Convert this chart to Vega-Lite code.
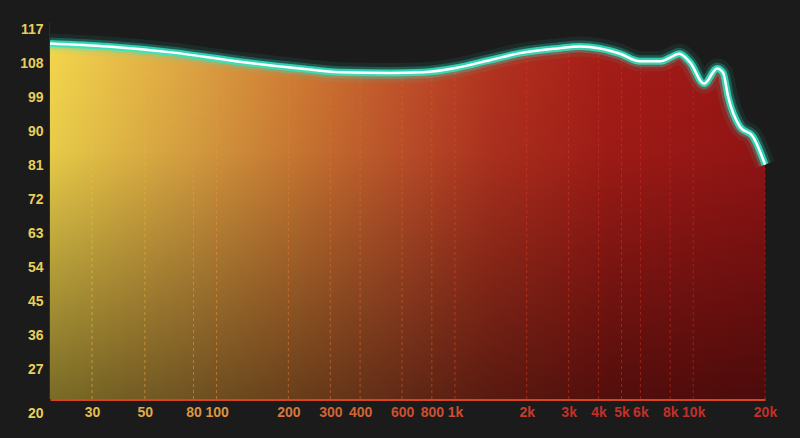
{
  "$schema": "https://vega.github.io/schema/vega-lite/v6.json",
  "width": 715,
  "height": 377,
  "autosize": {"type": "none"},
  "padding": {"left": 50, "top": 22, "right": 35, "bottom": 39},
  "background": "#1b1b1b",
  "config": {
    "view": {"stroke": null},
    "font": "Liberation Sans",
    "axis": {"labelFont": "Liberation Sans", "labelFontSize": 14, "labelFontWeight": "bold", "labelOverlap": false, "labelBound": false, "labelFlush": false, "grid": false, "ticks": false}
  },
  "datasets": {
    "curve": [
      {"f": 20, "v": 113.3},
      {"f": 35, "v": 112.5},
      {"f": 66, "v": 110.9},
      {"f": 125, "v": 108.5},
      {"f": 224, "v": 106.7},
      {"f": 330, "v": 105.7},
      {"f": 535, "v": 105.5},
      {"f": 735, "v": 105.7},
      {"f": 1020, "v": 106.9},
      {"f": 1400, "v": 108.9},
      {"f": 1930, "v": 110.9},
      {"f": 2690, "v": 112.0},
      {"f": 3350, "v": 112.5},
      {"f": 4060, "v": 112.0},
      {"f": 4930, "v": 110.6},
      {"f": 5980, "v": 108.6},
      {"f": 7260, "v": 108.6},
      {"f": 8000, "v": 109.6},
      {"f": 8730, "v": 110.6},
      {"f": 9700, "v": 108.3},
      {"f": 11100, "v": 102.7},
      {"f": 12600, "v": 106.7},
      {"f": 13340, "v": 105.6},
      {"f": 14000, "v": 99.3},
      {"f": 15700, "v": 91.3},
      {"f": 17800, "v": 88.7},
      {"f": 20000, "v": 81.3}
    ],
    "ticks": [
      {"f": 30, "lo": 19.3, "hi": 119}, {"f": 50, "lo": 19.3, "hi": 119}, {"f": 80, "lo": 19.3, "hi": 119},
      {"f": 100, "lo": 19.3, "hi": 119}, {"f": 200, "lo": 19.3, "hi": 119}, {"f": 300, "lo": 19.3, "hi": 119},
      {"f": 400, "lo": 19.3, "hi": 119}, {"f": 600, "lo": 19.3, "hi": 119}, {"f": 800, "lo": 19.3, "hi": 119},
      {"f": 1000, "lo": 19.3, "hi": 119}, {"f": 2000, "lo": 19.3, "hi": 119}, {"f": 3000, "lo": 19.3, "hi": 119},
      {"f": 4000, "lo": 19.3, "hi": 119}, {"f": 5000, "lo": 19.3, "hi": 119}, {"f": 6000, "lo": 19.3, "hi": 119},
      {"f": 8000, "lo": 19.3, "hi": 119}, {"f": 10000, "lo": 19.3, "hi": 119}, {"f": 20000, "lo": 19.3, "hi": 81.3}
    ]
  },
  "encoding": {
    "x": {
      "field": "f", "type": "quantitative", "title": null,
      "scale": {"type": "log", "domain": [20, 20000], "nice": false},
      "axis": {
        "values": [30, 50, 80, 100, 200, 300, 400, 600, 800, 1000, 2000, 3000, 4000, 5000, 6000, 8000, 10000, 20000],
        "labelExpr": "datum.value >= 1000 ? (datum.value / 1000) + 'k' : '' + datum.value",
        "domainColor": "#d8441f",
        "domainWidth": 3,
        "labelPadding": 6,
        "labelColor": {
          "condition": [
            {"test": "datum.value <= 30", "value": "#e6be52"},
            {"test": "datum.value <= 50", "value": "#e2aa4a"},
            {"test": "datum.value <= 100", "value": "#de9442"},
            {"test": "datum.value <= 200", "value": "#d8783a"},
            {"test": "datum.value <= 400", "value": "#d46434"},
            {"test": "datum.value <= 1000", "value": "#cf4e30"},
            {"test": "datum.value <= 2000", "value": "#c93c2b"}
          ],
          "value": "#c42f2a"
        }
      }
    },
    "y": {
      "field": "v", "type": "quantitative", "title": null,
      "scale": {"domain": [19.3, 119], "nice": false, "zero": false},
      "axis": {
        "values": [20, 27, 36, 45, 54, 63, 72, 81, 90, 99, 108, 117],
        "domainColor": "#7a2a12",
        "domainWidth": 2,
        "labelColor": "#e8cf5c",
        "labelPadding": 7,
        "labelOffset": {"condition": {"test": "datum.value === 20", "value": 17}, "value": 0}
      }
    }
  },
  "layer": [
    {
      "data": {"name": "curve"},
      "mark": {
        "type": "area",
        "interpolate": "monotone",
        "clip": true,
        "color": {
          "gradient": "linear", "x1": 0, "x2": 1, "y1": 0, "y2": 0,
          "stops": [
            {"offset": 0, "color": "#f3d64c"},
            {"offset": 0.2, "color": "#dea342"},
            {"offset": 0.35, "color": "#d07a33"},
            {"offset": 0.5, "color": "#c1502a"},
            {"offset": 0.62, "color": "#b3321f"},
            {"offset": 0.78, "color": "#a51c17"},
            {"offset": 1, "color": "#981515"}
          ]
        }
      },
      "encoding": {
        "y2": {"datum": 19.3}
      }
    },
    {
      "data": {"name": "curve"},
      "mark": {
        "type": "area",
        "interpolate": "monotone",
        "clip": true,
        "color": {
          "gradient": "linear", "x1": 0, "x2": 0, "y1": 0, "y2": 1,
          "stops": [
            {"offset": 0, "color": "rgba(0,0,0,0)"},
            {"offset": 0.3, "color": "rgba(0,0,0,0.05)"},
            {"offset": 1, "color": "rgba(0,0,0,0.5)"}
          ]
        }
      },
      "encoding": {
        "y2": {"datum": 19.3}
      }
    },
    {
      "data": {"name": "ticks"},
      "mark": {"type": "rule", "strokeDash": [3, 3], "strokeWidth": 1, "opacity": 0.55},
      "encoding": {
        "y": {"field": "lo", "type": "quantitative"},
        "y2": {"field": "hi"},
        "color": {
          "field": "f", "type": "quantitative",
          "scale": {"type": "log", "domain": [20, 200, 2000, 20000], "range": ["#f0cf5a", "#e08040", "#d0402c", "#c02626"]},
          "legend": null
        }
      }
    },
    {
      "data": {"name": "curve"},
      "mark": {"type": "area", "interpolate": "monotone", "color": "#1b1b1b", "clip": true},
      "encoding": {
        "y2": {"datum": 119}
      }
    },
    {
      "data": {"name": "curve"},
      "mark": {"type": "line", "interpolate": "monotone", "color": "#2fe6c6", "strokeWidth": 20, "opacity": 0.08},
      "encoding": {}
    },
    {
      "data": {"name": "curve"},
      "mark": {"type": "line", "interpolate": "monotone", "color": "#2fe6c6", "strokeWidth": 12, "opacity": 0.25},
      "encoding": {}
    },
    {
      "data": {"name": "curve"},
      "mark": {"type": "line", "interpolate": "monotone", "color": "#2fe6c6", "strokeWidth": 7, "opacity": 0.85},
      "encoding": {}
    },
    {
      "data": {"name": "curve"},
      "mark": {"type": "line", "interpolate": "monotone", "color": "#ffffff", "strokeWidth": 2.5},
      "encoding": {}
    }
  ]
}
